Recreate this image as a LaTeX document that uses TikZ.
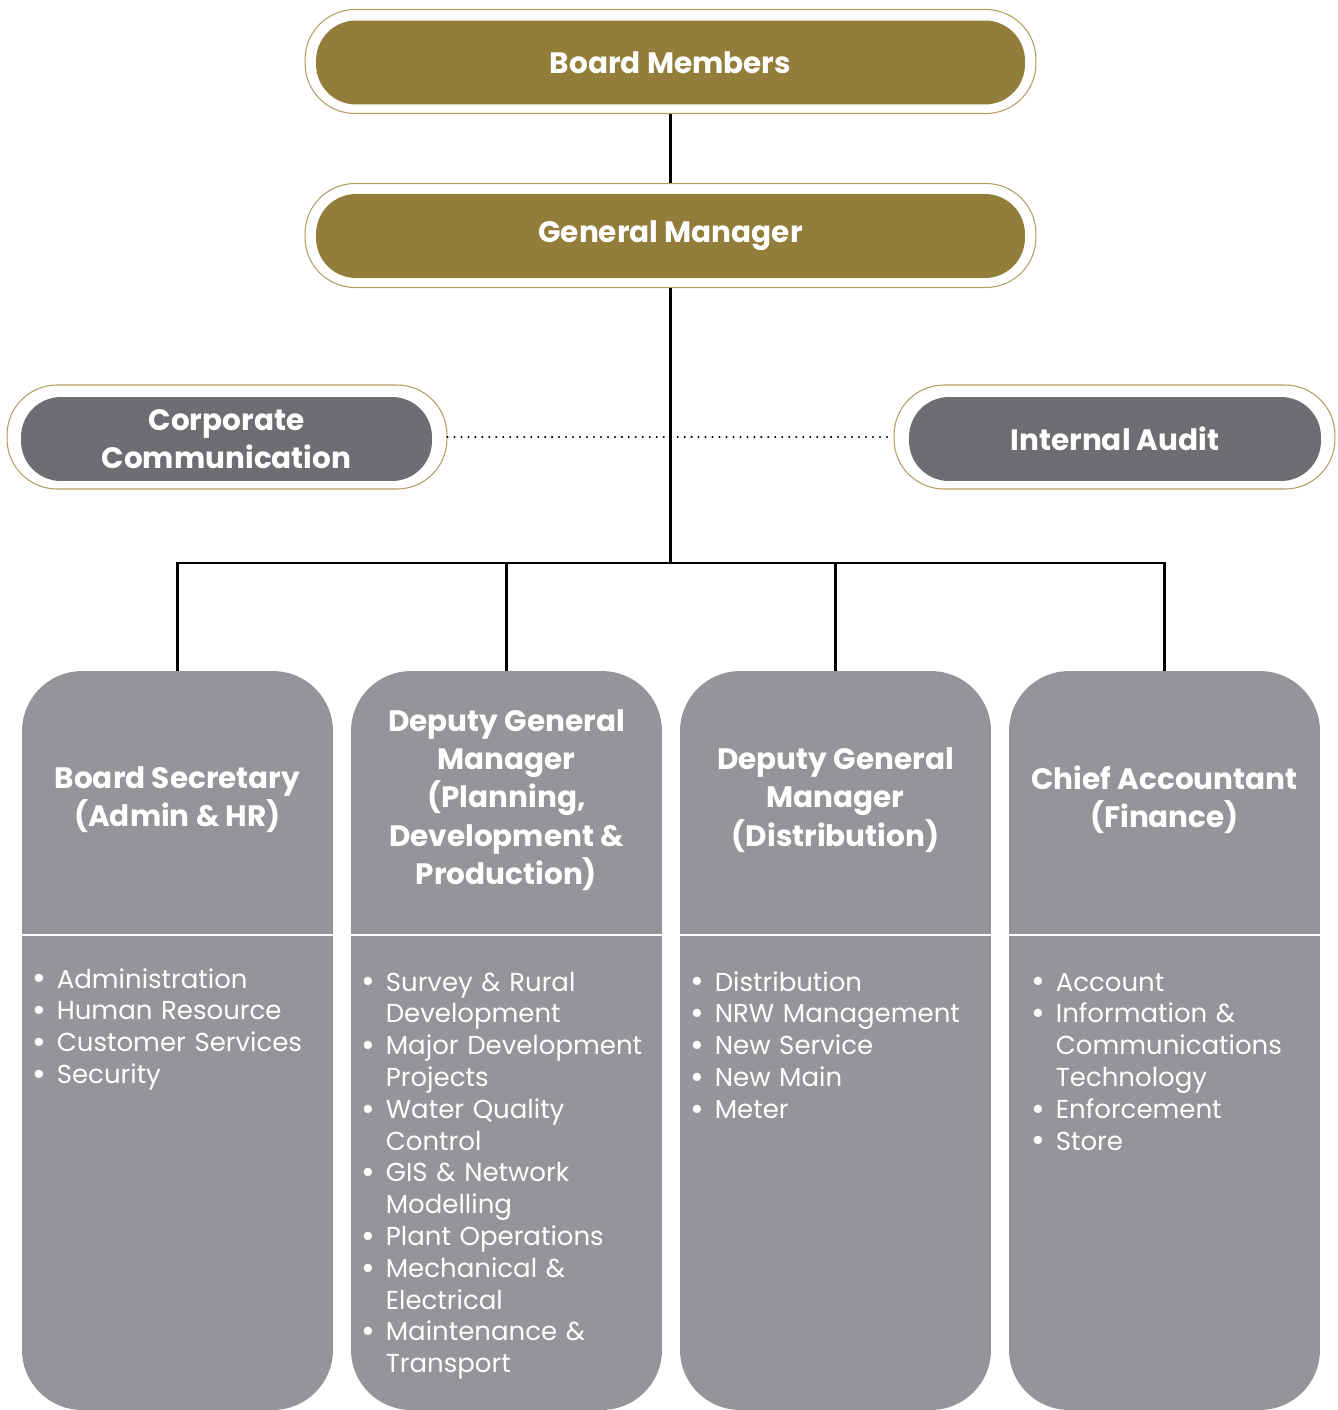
\documentclass[tikz,border=0pt]{standalone}
\usepackage{fontspec}
\setmainfont{Poppins}
\definecolor{Gold}{HTML}{937D3B}
\definecolor{GoldLine}{HTML}{B29D62}
\definecolor{Slate}{HTML}{6D6E72}
\definecolor{Silver}{HTML}{939598}

\newcommand{\titlefont}{\fontsize{16.8pt}{21.8pt}\selectfont\bfseries}
\newcommand{\itemfont}{\fontsize{14.8pt}{18.1pt}\selectfont}
\newcommand{\unitdot}{\raisebox{-0.12ex}{\fontsize{19pt}{0pt}\selectfont\textbullet}}

\newenvironment{unitlist}{%
  \begin{list}{\unitdot}{%
    \setlength{\leftmargin}{0.49cm}\setlength{\labelwidth}{0.49cm}%
    \setlength{\labelsep}{0pt}\setlength{\itemsep}{0pt}%
    \setlength{\parsep}{0pt}\setlength{\topsep}{0pt}%
    \setlength{\partopsep}{0pt}%
    \renewcommand{\makelabel}[1]{##1\hfil}}}%
  {\end{list}}

\begin{document}
\begin{tikzpicture}[
    x=0.02cm,y=-0.02cm,
    ring/.style={draw=GoldLine, line width=0.6pt, fill=white,
      rounded corners=1cm, minimum height=2.08cm, inner sep=0pt},
    goldpill/.style={fill=Gold, text=white, rounded corners=0.8cm,
      minimum width=14.18cm, minimum height=1.68cm, font=\titlefont},
    greypill/.style={fill=Slate, text=white, rounded corners=0.8cm,
      minimum width=8.22cm, minimum height=1.68cm, inner sep=0pt,
      align=center, font=\titlefont},
    unit/.style={fill=Silver, rounded corners=1.2cm, minimum width=6.22cm,
      minimum height=14.78cm, inner sep=0pt},
    unithead/.style={text=white, align=center, inner sep=0pt, font=\titlefont},
    unititems/.style={text=white, anchor=north west, inner sep=0pt,
      text width=6.1cm, align=left, font=\itemfont},
    divider/.style={draw=white, line width=1.5pt},
    link/.style={draw=black, line width=1.5pt},
    aside/.style={draw=black, line width=1.3pt, line cap=round,
      dash pattern=on 0pt off 3.97pt}
  ]
    \useasboundingbox (0,0) rectangle (1338,1410);

    % top of the chart
    \node[ring, minimum width=14.62cm] (bmring) at (670.5,61.5) {};
    \node[goldpill] (bm) at (670.5,62.5) {Board Members};

    \node[ring, minimum width=14.62cm] (gmring) at (670.5,235.5) {};
    \node[goldpill] (gm) at (670.5,236) {General Manager};

    % staff units beside the general manager
    \node[ring, minimum width=8.8cm] (ccring) at (227,437) {};
    \node[greypill] (cc) at (226.5,439) {Corporate\\Communication};

    \node[ring, minimum width=8.82cm] (iaring) at (1114.5,437) {};
    \node[greypill, minimum width=8.24cm] (ia) at (1115,439) {Internal Audit};

    % the four divisions
    \node[unit] (c1) at (177.5,1040.5) {};
    \node[unit] (c2) at (506.5,1040.5) {};
    \node[unit] (c3) at (835.5,1040.5) {};
    \node[unit] (c4) at (1164.5,1040.5) {};

    \draw[divider] (22,935) -- (333,935);
    \draw[divider] (351,935) -- (662,935);
    \draw[divider] (680,935) -- (991,935);
    \draw[divider] (1009,935) -- (1320,935);

    \node[unithead] (h1) at (177.5,800) {Board Secretary\\(Admin \& HR)};
    \node[unithead] (h2) at (506.5,800) {Deputy General\\Manager\\(Planning,\\Development \&\\Production)};
    \node[unithead] (h3) at (835.5,800) {Deputy General\\Manager\\(Distribution)};
    \node[unithead] (h4) at (1164.5,800) {Chief Accountant\\(Finance)};

    \node[unititems] (l1) at (32,956) {
      \begin{unitlist}
        \item Administration
        \item Human Resource
        \item Customer Services
        \item Security
      \end{unitlist}
    };

    \node[unititems] (l2) at (361,959) {
      \begin{unitlist}
        \item Survey \& Rural\\Development
        \item Major Development\\Projects
        \item Water Quality\\Control
        \item GIS \& Network\\Modelling
        \item Plant Operations
        \item Mechanical \&\\Electrical
        \item Maintenance \&\\Transport
      \end{unitlist}
    };

    \node[unititems] (l3) at (690,959) {
      \begin{unitlist}
        \item Distribution
        \item NRW Management
        \item New Service
        \item New Main
        \item Meter
      \end{unitlist}
    };

    \node[unititems] (l4) at (1031,959) {
      \begin{unitlist}
        \item Account
        \item Information \&\\Communications\\Technology
        \item Enforcement
        \item Store
      \end{unitlist}
    };

    % connectors
    \coordinate (hub) at (670.5,563);
    \draw[link] (bmring.south) -- (gmring.north);
    \draw[link] (gmring.south) -- (hub);
    \draw[link] (c1.north) |- (hub) -| (c4.north);
    \draw[link] (c2.north) |- (hub);
    \draw[link] (c3.north) |- (hub);
    \draw[aside] (ccring.east) -- (iaring.west);
  \end{tikzpicture}
\end{document}
